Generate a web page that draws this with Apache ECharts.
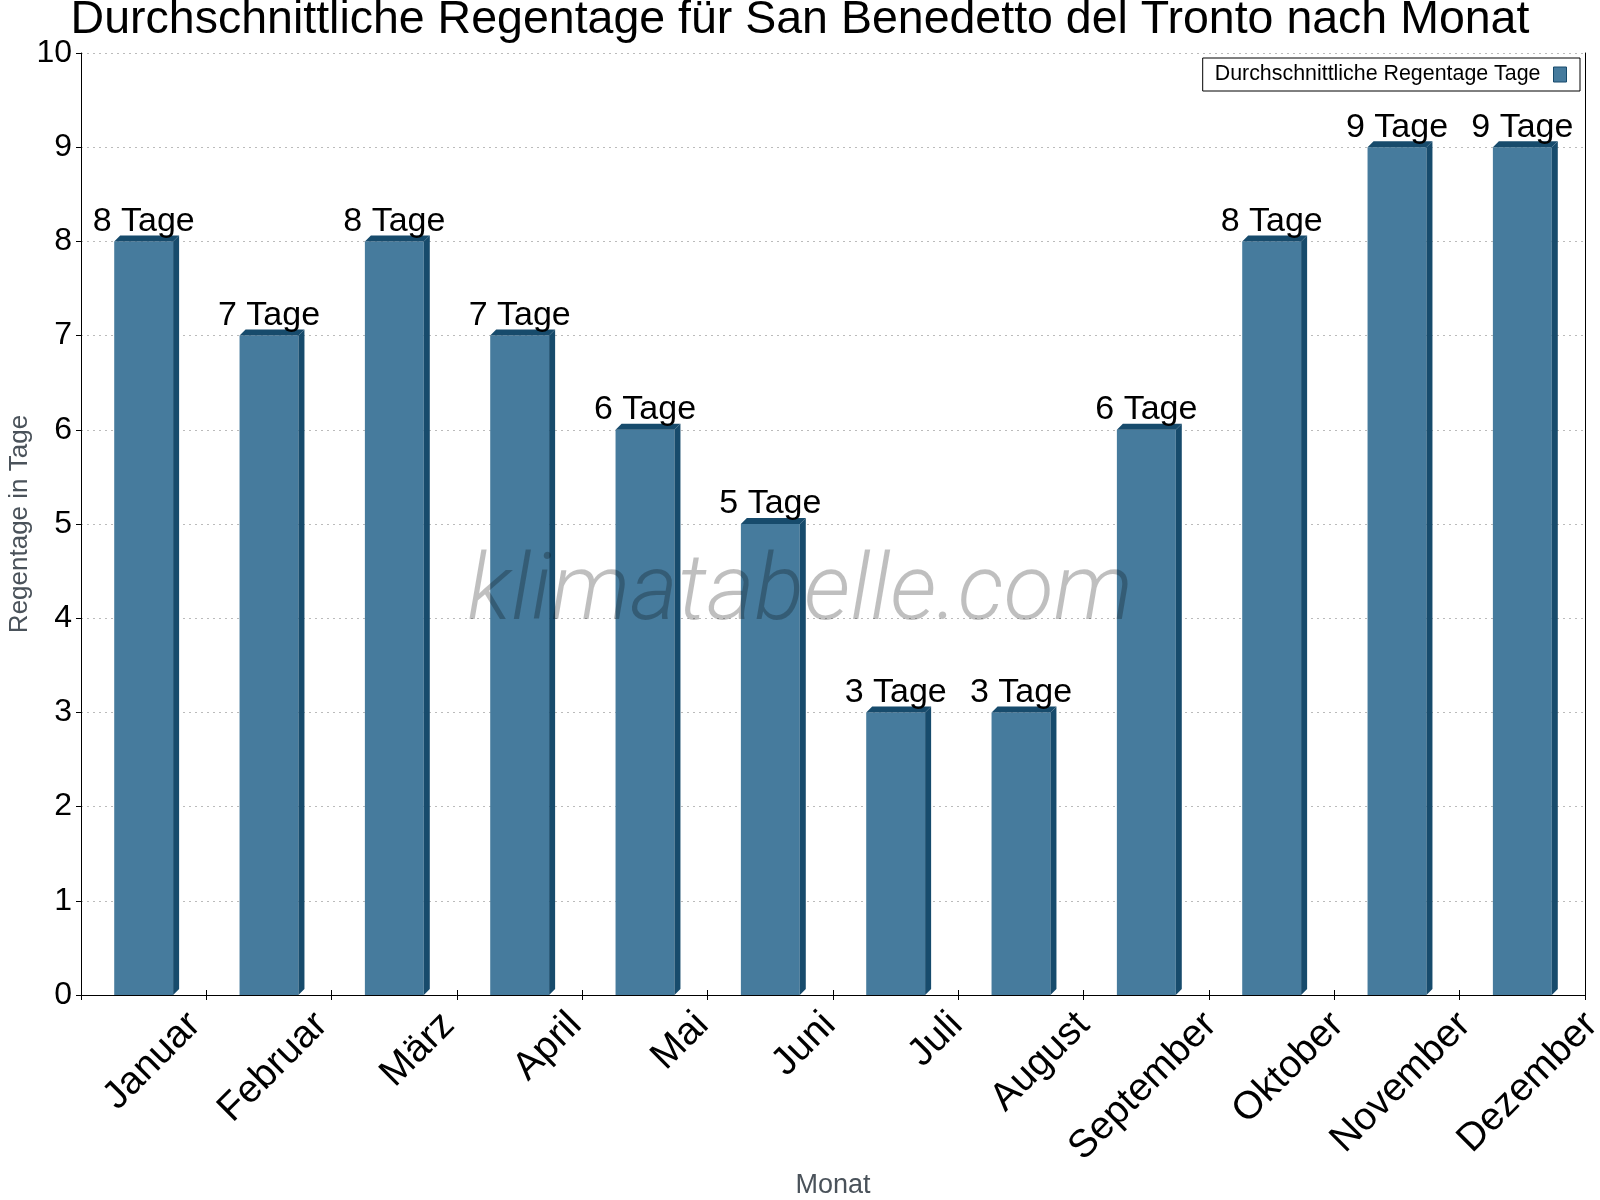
<!DOCTYPE html>
<html>
<head>
<meta charset="utf-8">
<script src="https://cdn.jsdelivr.net/npm/echarts@6/dist/echarts.min.js"></script>
<style>
  html, body { margin: 0; padding: 0; background: #fff; }
  #main { width: 1600px; height: 1200px; }
</style>
</head>
<body>
<div id="main"></div>
<script>
// Monate und Regentage
var months = ['Januar', 'Februar', 'März', 'April', 'Mai', 'Juni', 'Juli', 'August', 'September', 'Oktober', 'November', 'Dezember'];
var rainDays = [8, 7, 8, 7, 6, 5, 3, 3, 6, 8, 9, 9];
var yTicks = [0, 1, 2, 3, 4, 5, 6, 7, 8, 9, 10];

var frontColor = '#467b9d';
var darkColor = '#174b6c';
var font = 'Liberation Sans, Arial, sans-serif';
var seriesName = 'Durchschnittliche Regentage Tage';

var chart = echarts.init(document.getElementById('main'));

// 3D-Balken: Vorderseite, rechte Seite, Deckel
function renderBar(params, api) {
    var idx = api.value(0);
    var val = api.value(1);
    var top = api.coord([idx, val]);
    var base = api.coord([idx, 0]);
    var w = api.size([1, 0])[0] * 0.47;
    var d = 6;
    var x0 = top[0] - w / 2;
    var x1 = top[0] + w / 2;
    var yT = top[1];
    var yB = base[1];
    return {
        type: 'group',
        children: [
            { type: 'rect', shape: { x: x0, y: yT, width: w, height: yB - yT }, style: { fill: frontColor } },
            { type: 'polygon', shape: { points: [[x1, yT], [x1 + d, yT - d], [x1 + d, yB - d], [x1, yB]] }, style: { fill: darkColor } },
            { type: 'polygon', shape: { points: [[x0, yT], [x0 + d, yT - d], [x1 + d, yT - d], [x1, yT]] }, style: { fill: darkColor } },
            {
                type: 'text',
                style: {
                    text: val + ' Tage', x: top[0], y: yT - 3,
                    align: 'center', verticalAlign: 'bottom',
                    fontSize: 34, fontFamily: font, fill: '#000'
                }
            }
        ]
    };
}

chart.setOption({
    animation: false,
    title: {
        text: 'Durchschnittliche Regentage für San Benedetto del Tronto nach Monat',
        left: 'center',
        top: -8,
        textStyle: { fontSize: 46.5, fontWeight: 'normal', fontFamily: font, color: '#000' }
    },
    legend: {
        data: [{ name: seriesName, icon: 'rect' }],
        right: 20,
        top: 58,
        align: 'right',
        itemWidth: 13,
        itemHeight: 15,
        padding: [6, 13, 6, 12],
        borderColor: '#000',
        borderWidth: 1,
        borderRadius: 0,
        itemStyle: { color: frontColor, borderColor: darkColor, borderWidth: 1 },
        formatter: '{t|{name}}',
        textStyle: {
            rich: { t: { fontSize: 21.4, fontFamily: font, color: '#000', padding: [0, 8, 0, 0] } }
        }
    },
    grid: [
        { left: 81, right: 15, top: 53, bottom: 205, outerBoundsMode: 'none' },
        // nur fuer die gedrehten Monatsnamen, leicht nach rechts versetzt
        { left: 131, right: -55, top: 53, bottom: 205, outerBoundsMode: 'none' }
    ],
    xAxis: [{
        type: 'category',
        gridIndex: 0,
        data: months,
        name: 'Monat',
        nameLocation: 'middle',
        nameGap: 177,
        nameMoveOverlap: false,
        nameTextStyle: { fontSize: 27, fontFamily: font, color: '#4a525a' },
        axisLine: { lineStyle: { color: '#000', width: 1 } },
        axisTick: { show: true, length: 5, lineStyle: { color: '#000' } },
        axisLabel: { show: false },
        splitLine: { show: false }
    }, {
        type: 'category',
        gridIndex: 0,
        data: months,
        position: 'bottom',
        axisLine: { show: false },
        axisTick: { show: true, inside: true, length: 5, lineStyle: { color: '#000' } },
        axisLabel: { show: false },
        splitLine: { show: false }
    }, {
        type: 'category',
        gridIndex: 1,
        data: months,
        axisLine: { show: false },
        axisTick: { show: false },
        axisLabel: { rotate: 45, fontSize: 39, fontFamily: font, color: '#000', margin: 24 },
        splitLine: { show: false }
    }],
    yAxis: [{
        type: 'value',
        gridIndex: 0,
        min: yTicks[0],
        max: yTicks[yTicks.length - 1],
        interval: 1,
        name: 'Regentage in Tage',
        nameLocation: 'middle',
        nameGap: 48,
        nameMoveOverlap: false,
        nameTextStyle: { fontSize: 26, fontFamily: font, color: '#4a525a' },
        axisLine: { show: true, lineStyle: { color: '#000', width: 1 } },
        axisTick: { show: true, length: 5, lineStyle: { color: '#000' } },
        axisLabel: { fontSize: 32, fontFamily: font, color: '#000', margin: 9 },
        splitLine: { show: true, lineStyle: { color: '#bbbbbb', type: [2, 4], width: 1 } }
    }, {
        type: 'value',
        gridIndex: 0,
        position: 'right',
        min: yTicks[0],
        max: yTicks[yTicks.length - 1],
        interval: 1,
        axisLine: { show: true, lineStyle: { color: '#000', width: 1 } },
        axisTick: { show: false },
        axisLabel: { show: false },
        splitLine: { show: false }
    }, {
        type: 'value',
        gridIndex: 1,
        show: false
    }],
    graphic: [{
        type: 'text',
        z: 100,
        style: {
            text: 'klimatabelle.com',
            x: 800, y: 596,
            align: 'center', verticalAlign: 'middle',
            fontSize: 92, fontStyle: 'italic', fontWeight: 300,
            fontFamily: 'Roboto, sans-serif',
            fill: 'rgba(0,0,0,0.25)'
        }
    }],
    series: [{
        name: seriesName,
        type: 'custom',
        xAxisIndex: 0,
        yAxisIndex: 0,
        renderItem: renderBar,
        itemStyle: { color: frontColor },
        encode: { x: 0, y: 1 },
        data: rainDays.map(function (v, i) { return [i, v]; })
    }]
});
</script>
</body>
</html>
